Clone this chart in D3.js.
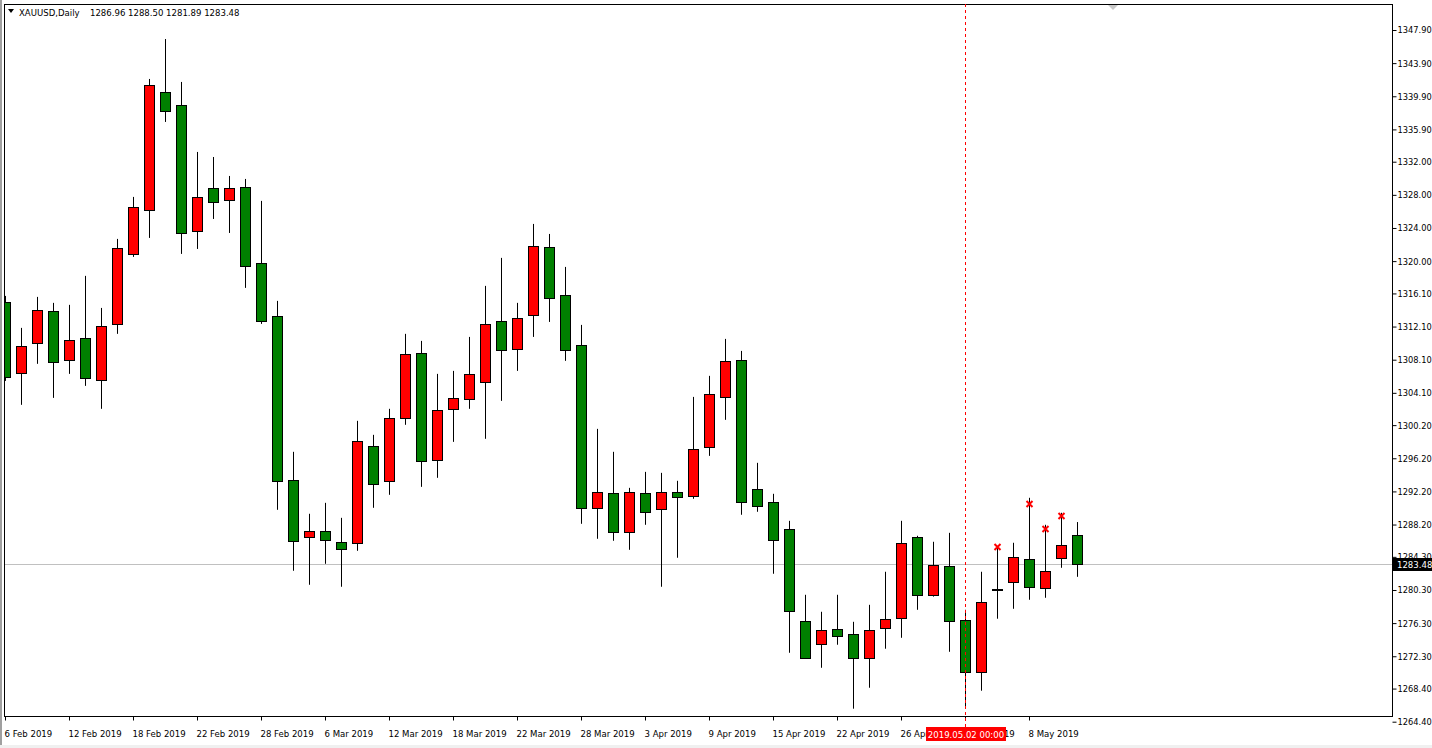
<!DOCTYPE html>
<html>
<head>
<meta charset="utf-8">
<script src="https://cdn.jsdelivr.net/npm/d3@7"></script>
<style>
  body { margin: 0; background: #fff; }
  svg text { font-family: Tahoma, "DejaVu Sans Condensed", "DejaVu Sans", sans-serif; font-size: 9.5px; fill: #000; }
  .price-axis text { font-size: 9.2px; }
</style>
</head>
<body>
<svg id="chart"></svg>
<script>
// trading days shown on the chart
const days = [
  "2019-02-06","2019-02-07","2019-02-08","2019-02-11","2019-02-12","2019-02-13","2019-02-14","2019-02-15",
  "2019-02-18","2019-02-19","2019-02-20","2019-02-21","2019-02-22","2019-02-25","2019-02-26","2019-02-27",
  "2019-02-28","2019-03-01","2019-03-04","2019-03-05","2019-03-06","2019-03-07","2019-03-08","2019-03-11",
  "2019-03-12","2019-03-13","2019-03-14","2019-03-15","2019-03-18","2019-03-19","2019-03-20","2019-03-21",
  "2019-03-22","2019-03-25","2019-03-26","2019-03-27","2019-03-28","2019-03-29","2019-04-01","2019-04-02",
  "2019-04-03","2019-04-04","2019-04-05","2019-04-08","2019-04-09","2019-04-10","2019-04-11","2019-04-12",
  "2019-04-15","2019-04-16","2019-04-17","2019-04-18","2019-04-22","2019-04-23","2019-04-24","2019-04-25",
  "2019-04-26","2019-04-29","2019-04-30","2019-05-01","2019-05-02","2019-05-03","2019-05-06","2019-05-07",
  "2019-05-08","2019-05-09","2019-05-10","2019-05-13"
];

const opens = [
  1315.08,1306.51,1310.13,1313.99,1308.08,1310.73,1305.67,1312.42,1320.81,1326.18,1340.42,1338.85,1323.65,1328.83,1327.39,1328.95,
  1319.78,1313.39,1293.60,1286.72,1287.44,1286.12,1286.00,1297.70,1293.48,1301.08,1308.92,1296.01,1302.17,1303.37,1305.42,1312.79,
  1309.41,1313.51,1321.71,1315.92,1309.89,1290.22,1292.03,1287.32,1292.03,1290.10,1292.15,1291.67,1297.58,1303.61,1308.08,1292.51,
  1290.94,1287.69,1276.58,1273.81,1275.62,1275.02,1272.12,1275.74,1276.95,1286.72,1279.72,1283.22,1276.70,1270.43,1280.32,1281.29,
  1284.07,1280.57,1284.19,1286.96
];
const highs = [
  1315.80,1311.94,1315.68,1314.96,1314.72,1318.22,1314.35,1322.68,1327.75,1341.99,1346.81,1341.63,1333.18,1332.57,1330.28,1329.92,
  1327.27,1315.20,1296.98,1289.50,1290.82,1289.01,1300.72,1299.03,1302.17,1311.22,1310.37,1306.39,1306.75,1310.85,1317.01,1320.39,
  1314.96,1324.49,1323.28,1319.30,1312.30,1299.75,1296.98,1292.63,1294.56,1294.44,1293.48,1303.61,1306.15,1310.61,1309.16,1295.65,
  1291.91,1288.65,1279.72,1277.67,1279.72,1276.46,1278.51,1282.50,1288.65,1286.84,1286.12,1287.20,1277.91,1282.50,1285.51,1286.00,
  1291.43,1288.17,1289.62,1288.50
];
const lows = [
  1305.54,1302.65,1307.60,1303.49,1306.39,1304.94,1302.17,1311.22,1320.51,1322.80,1336.80,1320.87,1321.47,1325.09,1323.40,1316.77,
  1312.42,1289.98,1282.62,1280.93,1283.46,1280.69,1285.03,1290.22,1291.79,1300.24,1292.75,1293.84,1298.18,1302.17,1298.55,1303.13,
  1306.75,1310.85,1312.66,1307.96,1288.29,1286.48,1286.24,1285.15,1288.17,1280.69,1284.19,1291.31,1296.49,1300.84,1289.38,1289.74,
  1282.26,1272.72,1272.00,1270.91,1273.69,1265.97,1268.50,1273.21,1274.53,1277.91,1279.50,1272.84,1266.09,1268.14,1276.83,1278.03,
  1279.12,1279.36,1282.98,1281.89
];
const closes = [
  1306.03,1309.77,1314.11,1307.84,1310.49,1305.91,1312.18,1321.59,1326.54,1341.26,1338.13,1323.40,1327.75,1327.14,1328.83,1319.42,
  1312.79,1293.48,1286.24,1287.44,1286.36,1285.27,1298.30,1293.12,1301.08,1308.80,1295.89,1302.05,1303.49,1306.39,1312.42,1309.29,
  1313.15,1321.84,1315.56,1309.29,1290.22,1292.15,1287.32,1292.15,1289.74,1292.15,1291.55,1297.34,1303.98,1307.96,1290.94,1290.46,
  1286.36,1277.79,1272.12,1275.50,1274.77,1272.12,1275.50,1276.83,1286.00,1279.72,1283.34,1276.58,1270.43,1278.88,1280.32,1284.31,
  1280.69,1282.62,1285.75,1283.48
];

// red "x" marks above some highs
const markIdx = [62, 64, 65, 66];
const markPrice = [1285.51, 1290.70, 1287.69, 1289.25];

// price scale labels on the right
const priceTicks = [1347.90,1343.90,1339.90,1335.90,1332.00,1328.00,1324.00,1320.00,1316.10,1312.10,1308.10,
  1304.10,1300.20,1296.20,1292.20,1288.20,1284.30,1280.30,1276.30,1272.30,1268.40,1264.40];
const dateTicks = [0,4,8,12,16,20,24,28,32,36,40,44,48,52,56,60,64];

const lastPrice = 1283.48;
const cursorIdx = 60;
const cursorLabel = "2019.05.02 00:00";

const W = 1432, H = 748;
const frame = { left: 4, top: 4, right: 1392, bottom: 716 };

const svg = d3.select("#chart").attr("width", W).attr("height", H);

const parse = d3.timeParse("%Y-%m-%d");
const fmtDay = d3.timeFormat("%-d %b %Y");

const x = d3.scaleLinear().domain([0, days.length - 1]).range([5, 5 + 16 * (days.length - 1)]);
const y = d3.scaleLinear().domain([1264.40, 1347.90]).range([721.7, 30]);

const plot = svg.append("g");
plot.append("clipPath").attr("id", "clip")
  .append("rect").attr("x", frame.left).attr("y", frame.top)
  .attr("width", frame.right - frame.left).attr("height", frame.bottom - frame.top);

// window edge
svg.append("line").attr("x1", 1).attr("x2", 1).attr("y1", 0).attr("y2", H)
  .attr("stroke", "#a0a0a0").attr("stroke-width", 2);
svg.append("rect").attr("x", 0).attr("y", H - 3).attr("width", W).attr("height", 3).attr("fill", "#f0f0f0");

const inner = plot.append("g").attr("clip-path", "url(#clip)");

// last price line
inner.append("line")
  .attr("x1", frame.left).attr("x2", frame.right)
  .attr("y1", Math.round(y(lastPrice)) + 0.5).attr("y2", Math.round(y(lastPrice)) + 0.5)
  .attr("stroke", "#c0c0c0");

const bars = days.map((d, i) => ({ i, o: opens[i], h: highs[i], l: lows[i], c: closes[i] }));

// wicks
inner.append("g").selectAll("line")
  .data(bars)
  .join("line")
  .attr("x1", d => Math.round(x(d.i)) + 0.5)
  .attr("x2", d => Math.round(x(d.i)) + 0.5)
  .attr("y1", d => y(d.h))
  .attr("y2", d => y(d.l))
  .attr("stroke", "#000");

// bodies (red = up, green = down)
inner.append("g").selectAll("rect")
  .data(bars.filter(d => d.o !== d.c))
  .join("rect")
  .attr("x", d => Math.round(x(d.i)) - 4.5)
  .attr("width", 10)
  .attr("y", d => Math.round(y(Math.max(d.o, d.c))) + 0.5)
  .attr("height", d => Math.max(1, Math.round(y(Math.min(d.o, d.c)) - y(Math.max(d.o, d.c)))))
  .attr("fill", d => d.c > d.o ? "#ff0000" : "#008000")
  .attr("stroke", "#000");

// doji
inner.append("g").selectAll("line")
  .data(bars.filter(d => d.o === d.c))
  .join("line")
  .attr("x1", d => Math.round(x(d.i)) - 5)
  .attr("x2", d => Math.round(x(d.i)) + 6)
  .attr("y1", d => Math.round(y(d.o)))
  .attr("y2", d => Math.round(y(d.o)))
  .attr("stroke", "#000").attr("stroke-width", 2);

// marks
inner.append("g").selectAll("path")
  .data(markIdx.map((m, k) => ({ i: m, p: markPrice[k] })))
  .join("path")
  .attr("transform", d => `translate(${Math.round(x(d.i)) + 0.5},${Math.round(y(d.p))})`)
  .attr("d", "M-3,-3L3,3M3,-3L-3,3")
  .attr("stroke", "#ff0000").attr("stroke-width", 2);

// frame
svg.append("rect")
  .attr("x", frame.left + 0.5).attr("y", frame.top + 0.5)
  .attr("width", frame.right - frame.left).attr("height", frame.bottom - frame.top)
  .attr("fill", "none").attr("stroke", "#000");

// shift marker
svg.append("path").attr("d", "M1108,5L1118,5L1113,10Z").attr("fill", "#c8c8c8");

// price axis
const yAxis = g => g
  .attr("class", "price-axis")
  .attr("transform", `translate(${frame.right + 0.5},0)`)
  .call(d3.axisRight(y).tickValues(priceTicks).tickFormat(d3.format(".2f")).tickSize(4).tickPadding(1))
  .call(g => g.select(".domain").remove())
  .call(g => g.selectAll("text").attr("font-size", null).attr("font-family", null));
svg.append("g").call(yAxis);

// date axis
const xAxis = g => g
  .attr("transform", `translate(0,${frame.bottom + 0.5})`)
  .call(d3.axisBottom(x).tickValues(dateTicks).tickFormat(i => fmtDay(parse(days[i]))).tickSize(4).tickPadding(10))
  .call(g => g.select(".domain").remove())
  .call(g => g.selectAll("text").attr("text-anchor", "start").attr("dx", -1)
    .attr("font-size", null).attr("font-family", null));
svg.append("g").call(xAxis);

// cursor line and its date box
svg.append("line")
  .attr("x1", Math.round(x(cursorIdx)) + 0.5).attr("x2", Math.round(x(cursorIdx)) + 0.5)
  .attr("y1", frame.top).attr("y2", 728)
  .attr("stroke", "#ff0000").attr("stroke-dasharray", "3,3");
const cx = Math.round(x(cursorIdx));
svg.append("rect").attr("x", cx - 39).attr("y", 727).attr("width", 80).attr("height", 14).attr("fill", "#ff0000");
svg.append("text").attr("x", cx + 1).attr("y", 737.5).attr("text-anchor", "middle")
  .style("fill", "#fff").text(cursorLabel);

// last price box
const ly = Math.round(y(lastPrice));
svg.append("rect").attr("x", frame.right + 1).attr("y", ly - 6).attr("width", W - frame.right - 1).attr("height", 13).attr("fill", "#000");
svg.append("text").attr("class", "price-axis").attr("x", frame.right + 5).attr("y", ly + 4).style("fill", "#fff").text(d3.format(".2f")(lastPrice));

// header
svg.append("path").attr("d", "M8,9L14,9L11,13Z").attr("fill", "#000");
svg.append("text").attr("x", 19).attr("y", 16).text("XAUUSD,Daily");
svg.append("text").attr("x", 90).attr("y", 16)
  .text([opens, highs, lows, closes].map(a => a[a.length - 1].toFixed(2)).join(" "));
</script>
</body>
</html>
